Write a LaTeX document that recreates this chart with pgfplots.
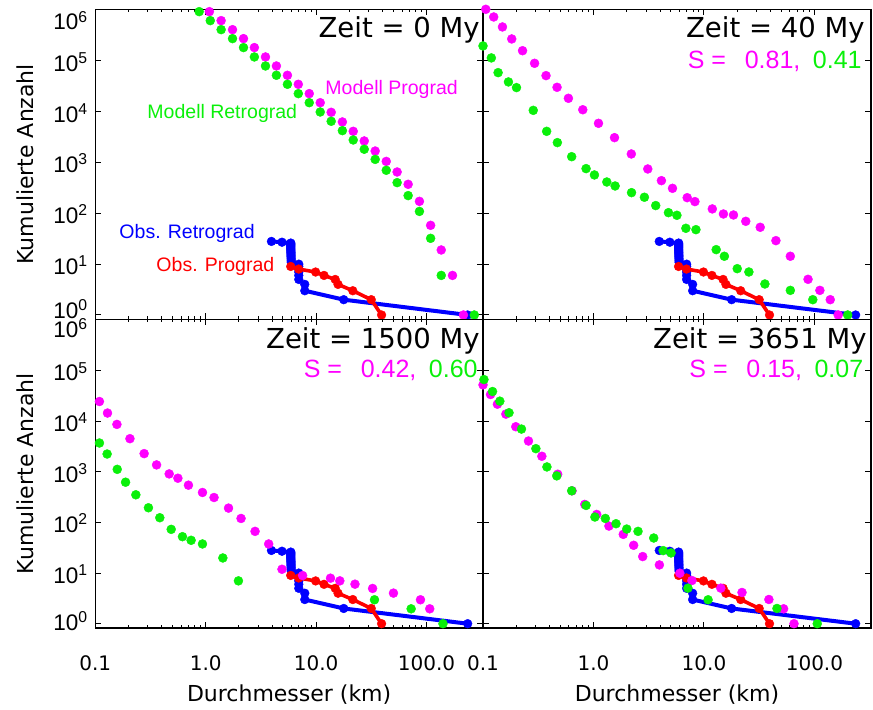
\documentclass[border=0pt]{standalone}
\usepackage{fontspec}
\setmainfont{DejaVu Sans}
\newfontfamily\lib{Liberation Sans}
\usepackage{pgfplots}
\pgfplotsset{compat=1.18}

\definecolor{mgn}{RGB}{255,0,255}
\definecolor{grn}{RGB}{10,240,10}
\definecolor{obsb}{RGB}{0,0,255}
\definecolor{obsr}{RGB}{255,0,0}

% y tick label: 10^n, lowered by #1 from the tick
\newcommand{\ylab}[2]{\raisebox{#1}[0pt][0pt]{10\textsuperscript{#2}}}

\pgfplotsset{
  every axis/.append style={
    xmode=log, ymode=log, scale only axis,
    xmin=0.1, xmax=325, ymin=0.822, ymax=1.03e6,
    xtick={0.1,1,10,100}, ytick={1,10,100,1000,10000,100000,1000000},
    yminorticks=false,
    major tick length=3pt, minor tick length=1.5pt,
    tick style={black, line width=0.5pt},
    axis line style={line width=0.6pt},
    clip mode=individual,
    xticklabel style={font=\fontsize{10}{12}\selectfont, yshift=-10.5pt},
    yticklabel style={font=\lib\fontsize{11.25}{13}\selectfont},
    xlabel style={font=\fontsize{11}{13}\selectfont, at={(axis description cs:0.5,0)}, anchor=center, yshift=-33.5pt},
    ylabel style={font=\fontsize{11}{13}\selectfont, at={(axis description cs:-0.1813,0.5)}, anchor=center},
  },
  obsblue/.style={color=obsb, line width=2pt, mark=*, mark size=2.2pt,
    mark options={solid, fill=obsb, draw=obsb, line width=0.2pt}},
  obsred/.style={color=obsr, line width=1.8pt, mark=*, mark size=2.2pt,
    mark options={solid, fill=obsr, draw=obsr, line width=0.2pt}},
  model/.style={only marks, color=#1, mark=*, mark size=2.25pt,
    mark options={solid, fill=#1, draw=#1, line width=0.2pt}},
}
\tikzset{
  zeit/.style={anchor=base east, inner sep=0pt, font=\fontsize{13.75}{16}\selectfont},
  sval/.style={anchor=base east, inner sep=0pt, font=\lib\fontsize{12.5}{15}\selectfont},
  leg/.style={anchor=west, inner sep=0pt, font=\lib\fontsize{9.75}{12}\selectfont},
}

% observed distributions, identical in every panel
\newcommand{\obsplots}{%
  \addplot[obsblue] coordinates {
    (236,1)(17.8,2)(7.9,3)(7.9,4)(6.97,5)(6.97,6)(6.97,7)(6.97,8)(6.97,9)(6.97,10)
    (5.95,11)(5.95,12)(5.94,13)(5.93,14)(5.93,15)(5.92,16)(5.92,17)(5.91,18)
    (5.91,19)(5.9,20)(5.9,21)(5.9,22)(5.9,23)(5.9,24)(5.9,25)(5.9,26)(4.91,27)(3.94,28)
  };
  \addplot[obsred] coordinates {
    (39.2,1)(31.6,2)(21.5,3)(15.8,4)(14.9,5)(11.8,6)(9.9,7)(6.95,8)(5.89,9)
  };
}

\begin{document}
\begin{tikzpicture}
\path[use as bounding box] (-47.65pt,4.65pt) rectangle (388.85pt,-349.85pt);

% ---------- Zeit = 0 My
\begin{axis}[at={(0pt,0pt)}, anchor=north west,
  width=193.85pt, height=155pt,
  xticklabels={}, ylabel={Kumulierte Anzahl},
  yticklabels={\ylab{-1.7pt}{0},\ylab{-5.2pt}{1},\ylab{-5.2pt}{2},\ylab{-5.2pt}{3},\ylab{-5.2pt}{4},\ylab{-5.2pt}{5},\ylab{-10pt}{6}}]
\obsplots
\addplot[model=mgn] coordinates {
  (1.08,9.27e5)(1.38,6.17e5)(1.75,4.10e5)(2.20,2.73e5)(2.76,1.82e5)(3.48,1.19e5)
  (4.37,7.91e4)(5.50,5.19e4)(6.90,3.45e4)(8.67,2.26e4)(10.9,1.50e4)(13.7,9700)
  (17.3,6270)(21.7,4100)(27.3,2650)(34.3,1680)(43.2,1050)(54.2,650)(68.2,372)
  (86.3,172)(109,58)(136,19)(172,6.0)(216,1.0)
};
\addplot[model=grn] coordinates {
  (0.873,9.27e5)(1.10,6.17e5)(1.38,4.10e5)(1.75,2.73e5)(2.20,1.82e5)(2.76,1.19e5)
  (3.48,7.91e4)(4.37,5.19e4)(5.50,3.45e4)(6.90,2.26e4)(8.67,1.50e4)(10.9,9840)
  (13.7,6460)(17.3,4230)(21.7,2770)(27.3,1820)(34.3,1150)(43.2,702)(54.2,401)
  (68.2,223)(86.3,109)(109,32.2)(136,6.0)(271,1.0)
};
\node[zeit, xshift=-1.5pt, yshift=-14pt] at (rel axis cs:1,1) {Zeit = 0 My};
\node[leg, text=mgn, xshift=114.9pt, yshift=-40.3pt] at (rel axis cs:0,1) {Modell Prograd};
\node[leg, text=grn, xshift=25.9pt, yshift=-51.9pt] at (rel axis cs:0,1) {Modell Retrograd};
\node[leg, text=obsb, xshift=11.9pt, yshift=-111.9pt] at (rel axis cs:0,1) {Obs. Retrograd};
\node[leg, text=obsr, xshift=30.4pt, yshift=-128.4pt] at (rel axis cs:0,1) {Obs. Prograd};
\end{axis}

% ---------- Zeit = 40 My
\begin{axis}[at={(193.85pt,0pt)}, anchor=north west,
  width=194pt, height=155pt, xticklabels={}, yticklabels={}]
\obsplots
\addplot[model=mgn] coordinates {
  (0.106,1.03e6)(0.125,7.28e5)(0.150,4.63e5)(0.182,2.69e5)(0.228,1.58e5)(0.293,8.93e4)
  (0.372,5.11e4)(0.468,3.01e4)(0.593,1.83e4)(0.800,1.09e4)(1.11,5890)(1.55,3080)
  (2.20,1470)(3.10,745)(4.12,439)(5.19,310)(7.05,203)(8.28,170)(11.9,122)(15.0,97)
  (18.5,92.7)(23.9,69.6)(32.3,53.1)(44.8,29.0)(60.5,14.3)(87.5,5.03)(112,3.05)
  (139,2.0)(164,1.0)
};
\addplot[model=grn] coordinates {
  (0.100,1.96e5)(0.119,1.14e5)(0.137,5.85e4)(0.170,3.84e4)(0.201,2.97e4)(0.285,1.06e4)
  (0.377,4100)(0.471,2460)(0.635,1300)(0.857,757)(1.02,568)(1.32,413)(1.57,345)
  (2.21,255)(2.89,207)(3.66,142)(4.77,103)(5.69,91.4)(6.86,50.7)(8.46,47.7)
  (12.9,19.3)(15.3,14.3)(20.0,8.15)(25.5,7.01)(35.6,4.07)(60.5,3.05)(96.6,2.0)(200,1.0)
};
\node[zeit, xshift=-3pt, yshift=-14pt] at (rel axis cs:1,1) {Zeit = 40 My};
\node[sval, xshift=-4.5pt, yshift=-29.5pt] at (rel axis cs:1,1)
  {\textcolor{mgn}{S =\hspace{0.75em}0.81,}\hspace{0.5em}\textcolor{grn}{0.41}};
\end{axis}

% ---------- Zeit = 1500 My
\begin{axis}[at={(0pt,-155pt)}, anchor=north west,
  width=193.85pt, height=154.35pt,
  xlabel={Durchmesser (km)}, ylabel={Kumulierte Anzahl},
  xticklabels={0.1,1.0,10.0,100.0},
  yticklabels={\ylab{-3.2pt}{0},\ylab{-5.2pt}{1},\ylab{-5.2pt}{2},\ylab{-5.2pt}{3},\ylab{-5.2pt}{4},\ylab{-5.2pt}{5},\ylab{-8.7pt}{6}}]
\obsplots
\addplot[model=mgn] coordinates {
  (0.109,2.45e4)(0.129,1.45e4)(0.157,8650)(0.206,4520)(0.277,2290)(0.359,1370)
  (0.467,910)(0.560,748)(0.698,545)(0.935,391)(1.19,311)(1.61,192)(2.09,120)
  (2.80,66.7)(3.72,37.6)(4.91,11.9)(7.55,8.94)(13.5,7.93)(16.4,7.02)(22.5,6.04)
  (32.5,4.97)(50.2,4.02)(88.2,2.97)(107,1.97)
};
\addplot[model=grn] coordinates {
  (0.0986,6600)(0.109,3710)(0.128,2250)(0.158,1120)(0.188,624)(0.233,352)(0.303,195)
  (0.384,124)(0.487,73.1)(0.616,52.4)(0.738,44.4)(0.935,37.6)(1.43,19.9)(1.98,7.02)
  (33.8,2.97)(72.6,1.97)(141,1.0)
};
\node[zeit, xshift=-1.5pt, yshift=-14.5pt] at (rel axis cs:1,1) {Zeit = 1500 My};
\node[sval, xshift=-2.5pt, yshift=-29pt] at (rel axis cs:1,1)
  {\textcolor{mgn}{S =\hspace{0.75em}0.42,}\hspace{0.5em}\textcolor{grn}{0.60}};
\end{axis}

% ---------- Zeit = 3651 My
\begin{axis}[at={(193.85pt,-155pt)}, anchor=north west,
  width=194pt, height=154.35pt,
  xlabel={Durchmesser (km)},
  xticklabels={0.1,1.0,10.0,100.0}, yticklabels={}]
\obsplots
\addplot[model=mgn] coordinates {
  (0.100,5.22e4)(0.117,3.37e4)(0.135,2.17e4)(0.161,1.38e4)(0.198,7780)(0.258,4060)
  (0.341,2030)(0.474,897)(0.640,422)(0.834,227)(1.07,144)(1.38,84.9)(1.86,58.2)
  (2.31,35.4)(2.79,21.2)(3.95,14.5)(6.05,9.94)(7.78,7.13)(14.2,5.04)(22.1,4.14)
  (38.7,3.01)(52.6,1.97)(65.3,1.0)
};
\addplot[model=grn] coordinates {
  (0.102,6.65e4)(0.122,3.86e4)(0.142,2.49e4)(0.172,1.47e4)(0.223,7000)(0.301,2870)
  (0.379,1250)(0.465,832)(0.635,422)(0.857,217)(1.03,128)(1.28,120)(1.60,94.4)
  (2.00,74.1)(2.53,66.7)(3.51,49.3)(4.27,27.8)(5.04,25.0)(7.16,5.04)(10.9,2.97)
  (45.8,2.0)(106,1.0)
};
\node[zeit, xshift=-2pt, yshift=-14.5pt] at (rel axis cs:1,1) {Zeit = 3651 My};
\node[sval, xshift=-3.7pt, yshift=-29pt] at (rel axis cs:1,1)
  {\textcolor{mgn}{S =\hspace{0.75em}0.15,}\hspace{0.5em}\textcolor{grn}{0.07}};
\end{axis}
\end{tikzpicture}
\end{document}
